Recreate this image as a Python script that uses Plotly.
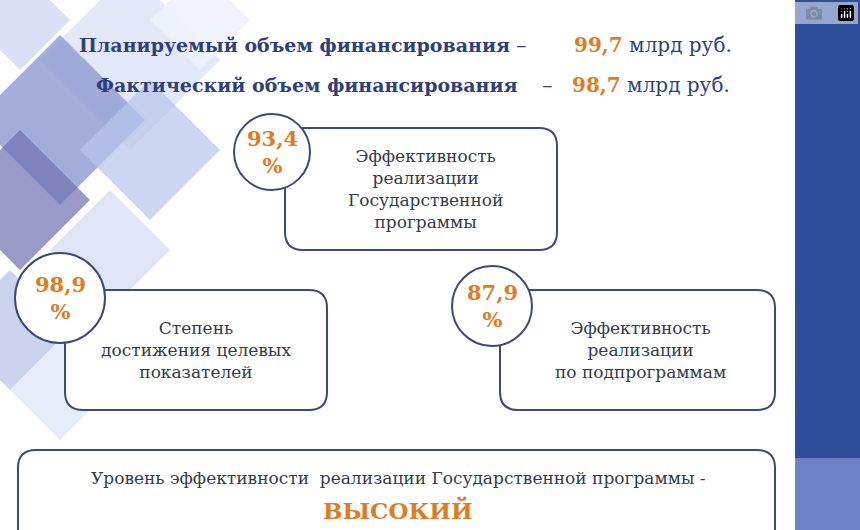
import plotly.graph_objects as go

# values from the picture
plan_value = 99.7
fact_value = 98.7
units = "млрд руб."
head_labels = ["Планируемый объем финансирования", "Фактический объем финансирования"]
head_values = [plan_value, fact_value]

box_pcts = [93.4, 98.9, 87.9]
box_texts = [
    "Эффективность<br>реализации<br>Государственной<br>программы",
    "Степень<br>достижения целевых<br>показателей",
    "Эффективность<br>реализации<br>по подпрограммам",
]
bottom_text = "Уровень эффективности  реализации Государственной программы -"
bottom_level = "ВЫСОКИЙ"

NAVY = "#2f3f7a"
ORANGE = "#e07b24"
LINE = "#3d4a78"
SERIF = "DejaVu Serif"

W, H = 860, 530


def fmt(v):
    return f"{v:.1f}".replace(".", ",")


def rrect(x0, y0, x1, y1, r):
    return (f"M{x0+r},{y0} L{x1-r},{y0} Q{x1},{y0} {x1},{y0+r} L{x1},{y1-r} "
            f"Q{x1},{y1} {x1-r},{y1} L{x0+r},{y1} Q{x0},{y1} {x0},{y1-r} "
            f"L{x0},{y0+r} Q{x0},{y0} {x0+r},{y0} Z")


def diamond(cx, cy, s):
    return f"M{cx},{cy-s} L{cx+s},{cy} L{cx},{cy+s} L{cx-s},{cy} Z"


fig = go.Figure()
shapes = []
annotations = []

# decorative background diamonds on the left
decor = [
    (130, 60, 90, "#dfe6f6", 0.9),
    (60, 120, 85, "#8e9ad2", 0.8),
    (150, 150, 70, "#b8c4ea", 0.7),
    (20, 200, 70, "#6f6fb0", 0.7),
    (110, 250, 60, "#c9d4f0", 0.6),
    (10, 330, 60, "#a8b6e2", 0.6),
    (60, 390, 50, "#dce5f5", 0.7),
    (200, 20, 50, "#eef2fb", 0.9),
    (20, 20, 50, "#c0cbef", 0.6),
]
for cx, cy, s, c, op in decor:
    shapes.append(dict(type="path", path=diamond(cx, cy, s), fillcolor=c,
                       opacity=op, line=dict(width=0), layer="below"))

# right band
shapes.append(dict(type="rect", x0=795, x1=860, y0=0, y1=530, fillcolor="#2e4d9a",
                   line=dict(width=0), layer="below"))
shapes.append(dict(type="rect", x0=795, x1=860, y0=458, y1=530, fillcolor="#6c82c4",
                   line=dict(width=0), layer="below"))

# boxes and circles
boxes = [(285, 128, 557, 250), (65, 290, 327, 410), (500, 290, 775, 410)]
circles = [(272, 152, 38), (60, 298, 45), (492, 306, 40)]
text_pos = [(425, 189), (196, 350), (640, 350)]
for (x0, y0, x1, y1), (cx, cy, r), (tx, ty), p, t in zip(boxes, circles, text_pos, box_pcts, box_texts):
    shapes.append(dict(type="path", path=rrect(x0, y0, x1, y1, 18), fillcolor="white",
                       line=dict(color=LINE, width=2)))
    shapes.append(dict(type="circle", x0=cx-r, x1=cx+r, y0=cy-r, y1=cy+r, fillcolor="white",
                       line=dict(color=LINE, width=2)))
    annotations.append(dict(x=cx, y=cy, text=f"<b>{fmt(p)}<br>%</b>", showarrow=False,
                            font=dict(family=SERIF, size=21, color=ORANGE)))
    annotations.append(dict(x=tx, y=ty, text=t, showarrow=False,
                            font=dict(family=SERIF, size=17, color="#333a4a")))

shapes.append(dict(type="path", path=rrect(18, 450, 775, 560, 18), fillcolor="white",
                   line=dict(color=LINE, width=2)))
annotations.append(dict(x=398, y=478, text=bottom_text, showarrow=False,
                        font=dict(family=SERIF, size=17, color="#333a4a")))
annotations.append(dict(x=398, y=510, text=f"<b>{bottom_level}</b>", showarrow=False,
                        font=dict(family=SERIF, size=23, color=ORANGE)))

# header lines
label_right = [512, 520]
dash_x = [521, 547]
value_left = [572, 570]
for i, (lab, v) in enumerate(zip(head_labels, head_values)):
    y = 45 + i * 40
    annotations.append(dict(x=label_right[i], y=y, xanchor="right", text=f"<b>{lab}</b>",
                            showarrow=False, font=dict(family=SERIF, size=19, color=NAVY)))
    annotations.append(dict(x=dash_x[i], y=y, text="–", showarrow=False,
                            font=dict(family=SERIF, size=21, color=NAVY)))
    annotations.append(dict(x=value_left[i], y=y, xanchor="left",
                            text=f"<b><span style='color:{ORANGE}'>{fmt(v)}</span></b> {units}",
                            showarrow=False, font=dict(family=SERIF, size=20, color=NAVY)))

fig.update_layout(
    width=W, height=H, margin=dict(l=0, r=0, t=0, b=0),
    plot_bgcolor="white", paper_bgcolor="white",
    xaxis=dict(range=[0, W], visible=False, fixedrange=True),
    yaxis=dict(range=[H, 0], visible=False, fixedrange=True),
    shapes=shapes, annotations=annotations, showlegend=False,
)
fig.write_html("out.html")

# drop the default page margin so the figure sits at the window corner
with open("out.html", encoding="utf-8") as f:
    page = f.read()
page = page.replace("<head>", "<head><style>body{margin:0;overflow:hidden}</style>", 1)
with open("out.html", "w", encoding="utf-8") as f:
    f.write(page)
